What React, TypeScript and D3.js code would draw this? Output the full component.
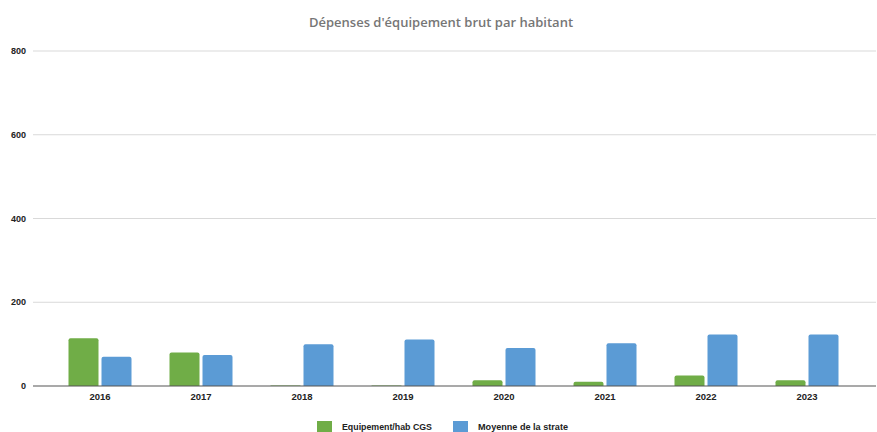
import React from "react";
import * as d3 from "d3";

const years = ["2016", "2017", "2018", "2019", "2020", "2021", "2022", "2023"];
const equipement = [114, 80, 1, 1, 14, 10, 25, 14];
const moyenne = [70, 74, 100, 111, 91, 102, 123, 123];
const yTicks = [0, 200, 400, 600, 800];
const seriesNames = ["Equipement/hab CGS", "Moyenne de la strate"];
const colors = ["#70AD47", "#5B9BD5"];

const W = 877;
const H = 432;

export default function App() {
  const y = d3.scaleLinear().domain([0, 800]).range([386, 51]);
  const x = d3.scaleBand().domain(years).range([49.5, 857.5]).paddingInner(0).paddingOuter(0);
  const barW = 30;
  const gap = 3;
  const font = "'Liberation Sans', Arial, sans-serif";

  const barPath = (x0: number, y0: number, w: number, h: number) => {
    const r = Math.min(2, h / 2, w / 2);
    if (h <= 0) return "";
    return `M${x0},${y0 + h} L${x0},${y0 + r} Q${x0},${y0} ${x0 + r},${y0} L${x0 + w - r},${y0} Q${x0 + w},${y0} ${x0 + w},${y0 + r} L${x0 + w},${y0 + h} Z`;
  };

  return (
    <svg width={W} height={H} style={{ position: "absolute", left: 0, top: 0, background: "#fff" }}>
      <text x={441} y={27} textAnchor="middle" fontFamily="'Open Sans', sans-serif" fontSize={13} fontWeight={600} fill="#767676">
        Dépenses d'équipement brut par habitant
      </text>
      {yTicks.map((t) => (
        <g key={t}>
          {t !== 0 && (
            <line x1={33} x2={876} y1={y(t)} y2={y(t)} stroke="#D9D9D9" strokeWidth={1} />
          )}
          <text x={26} y={y(t) + 3} textAnchor="end" fontFamily={font} fontSize={9} fontWeight="bold" fill="#222">
            {t}
          </text>
        </g>
      ))}
      {years.map((yr, i) => {
        const c = (x(yr) as number) + x.bandwidth() / 2;
        const vals = [equipement[i], moyenne[i]];
        return (
          <g key={yr}>
            {vals.map((v, j) => {
              const x0 = j === 0 ? c - gap / 2 - barW : c + gap / 2;
              const top = y(v);
              return <path key={j} d={barPath(x0, top, barW, y(0) - top)} fill={colors[j]} />;
            })}
            <text x={c} y={400} textAnchor="middle" fontFamily={font} fontSize={9.5} fontWeight="bold" fill="#222">
              {yr}
            </text>
          </g>
        );
      })}
      <line x1={33} x2={876} y1={y(0)} y2={y(0)} stroke="#555" strokeWidth={1.2} />
      {seriesNames.map((n, i) => {
        const lx = i === 0 ? 317 : 453;
        return (
          <g key={n}>
            <rect x={lx} y={421} width={15} height={11} fill={colors[i]} />
            <text x={lx + 25} y={429.5} fontFamily={font} fontSize={8.5} fontWeight="bold" fill="#222" textLength={90} lengthAdjust="spacingAndGlyphs">
              {n}
            </text>
          </g>
        );
      })}
    </svg>
  );
}
